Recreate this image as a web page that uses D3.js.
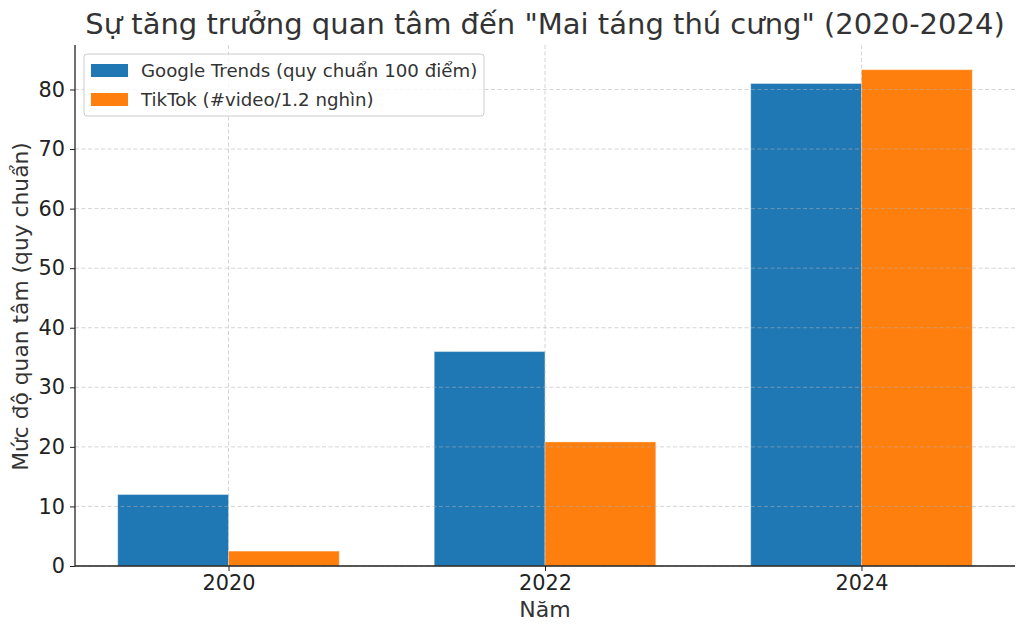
<!DOCTYPE html>
<html><head><meta charset="utf-8">
<script src="https://cdn.jsdelivr.net/npm/d3@7"></script>
<style>body{margin:0;background:#fff}svg{font-family:"DejaVu Sans",sans-serif}</style>
</head><body><svg id="c" width="1024" height="626"></svg>
<script>
const categories = ["2020", "2022", "2024"];
const googleTrends = [12, 36, 81];
const tiktok = [2.5, 20.83, 83.33];
const seriesNames = ["Google Trends (quy chuẩn 100 điểm)", "TikTok (#video/1.2 nghìn)"];
const yTicks = [0, 10, 20, 30, 40, 50, 60, 70, 80];
const colors = ["#1f77b4", "#ff7f0e"];

const svg = d3.select("#c");
const m = {l: 75, r: 1015, t: 45, b: 566};
const x = d3.scaleLinear().domain([-0.485, 2.485]).range([m.l, m.r]);
const y = d3.scaleLinear().domain([0, 87.47]).range([m.b, m.t]);
const bw = 0.35;

// bars
const series = [googleTrends, tiktok];
series.forEach((vals, si) => {
  svg.append("g").selectAll("rect").data(vals).join("rect")
    .attr("x", (d, i) => x(i + (si === 0 ? -bw : 0)))
    .attr("width", x(bw) - x(0))
    .attr("y", d => y(d))
    .attr("height", d => y(0) - y(d))
    .attr("fill", colors[si])
    .attr("stroke", "rgba(255,255,255,0.35)")
    .attr("stroke-width", 1);
});

// grid
const grid = svg.append("g").attr("stroke", "#b0b0b0").attr("stroke-opacity", 0.6)
  .attr("stroke-dasharray", "4,2.5").attr("stroke-width", 0.9);
grid.selectAll(".gy").data(yTicks).join("line")
  .attr("x1", m.l).attr("x2", m.r).attr("y1", d => y(d)).attr("y2", d => y(d));
grid.selectAll(".gx").data(categories).join("line")
  .attr("x1", (d, i) => x(i)).attr("x2", (d, i) => x(i)).attr("y1", m.t).attr("y2", m.b);

// axes
const xa = svg.append("g").attr("transform", `translate(0,${m.b})`)
  .call(d3.axisBottom(x).tickValues([0, 1, 2]).tickFormat(i => categories[i]).tickSize(5).tickPadding(4));
xa.select(".domain").attr("d", `M${m.l},0H${m.r}`);
const ya = svg.append("g").attr("transform", `translate(${m.l},0)`)
  .call(d3.axisLeft(y).tickValues(yTicks).tickSize(5).tickPadding(5));
ya.select(".domain").attr("d", `M0,${m.b}V${m.t}`);
[xa, ya].forEach(a => {
  a.selectAll("text").attr("font-size", 20.8).attr("fill", "#222").attr("font-family", "DejaVu Sans");
  a.selectAll("line").attr("stroke", "#222").attr("stroke-width", 1);
  a.select(".domain").attr("stroke", "#222").attr("stroke-width", 1.3);
});

// labels
svg.append("text").attr("x", 545).attr("y", 34).attr("text-anchor", "middle")
  .attr("font-size", 29).attr("fill", "#333").text('Sự tăng trưởng quan tâm đến "Mai táng thú cưng" (2020-2024)');
svg.append("text").attr("x", 545).attr("y", 617).attr("text-anchor", "middle")
  .attr("font-size", 22).attr("fill", "#333").text("Năm");
svg.append("text").attr("transform", `translate(28,${(m.t + m.b) / 2 + 1}) rotate(-90)`).attr("text-anchor", "middle")
  .attr("font-size", 21.8).attr("fill", "#333").text("Mức độ quan tâm (quy chuẩn)");

// legend
const lg = svg.append("g");
lg.append("rect").attr("x", 84).attr("y", 54).attr("width", 400).attr("height", 62).attr("rx", 3)
  .attr("fill", "#fff").attr("fill-opacity", 0.8).attr("stroke", "#ccc");
seriesNames.forEach((n, i) => {
  lg.append("rect").attr("x", 91).attr("y", 64 + i * 29).attr("width", 37).attr("height", 13).attr("fill", colors[i]);
  lg.append("text").attr("x", 141).attr("y", 77 + i * 29).attr("font-size", 18.2).attr("fill", "#333").text(n);
});
</script></body></html>
